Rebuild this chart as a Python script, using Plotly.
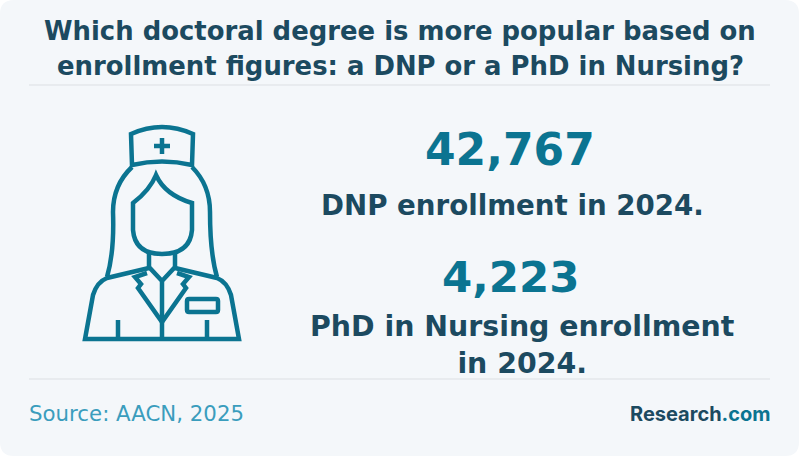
import plotly.graph_objects as go

W = 799
H = 456

title_lines = ["Which doctoral degree is more popular based on",
               "enrollment figures: a DNP or a PhD in Nursing?"]
enrollment = [42767, 4223]
captions = ["DNP enrollment in 2024.", "PhD in Nursing enrollment<br>in 2024."]
source = "Source: AACN, 2025"

BG = "#f4f7fa"
DARK = "#1c4a60"
TEAL = "#0b7491"
RULE = "#dcdfe3"
BOLD = "DejaVu Sans"

# the nurse icon, in page pixels
nurse = [
    "M131,134 Q162,120 193,134 L192,165 Q162,158 132,165 Z",
    "M162,138 L162,154 M154,146 L170,146",
    "M132,167 Q113,185 113,212 C114,240 112,260 107,277",
    "M192,167 Q210,185 210,212 C210,240 212,260 217,277",
    "M156,175 Q150,190 133,203 L133,230 Q135,254 162,254 Q190,254 192,230 L192,203 Q165,195 156,175 Z",
    "M149,253 L149,267 L162,281 L175,267 L175,253",
    "M149,268 L107,278 Q97,282 93,295 L85,339 L239,339 L231,295 Q227,282 217,278 L175,268",
    "M147,273 L135,277 L141,284 L138,288 L162,322 L186,288 L183,284 L189,277 L177,273",
    "M162,282 L162,339",
    "M118,320 L118,339 M207,320 L207,339",
    "M189,299 L216,299 Q218,299 218,301 L218,310 Q218,312 216,312 L189,312 Q187,312 187,310 L187,301 Q187,299 189,299 Z",
]

fig = go.Figure()

shapes = [
    dict(type="path", layer="below", fillcolor=BG, line_width=0,
         path=f"M0,14 Q0,0 14,0 L{W-14},0 Q{W},0 {W},14 L{W},{H-14} Q{W},{H} {W-14},{H} L14,{H} Q0,{H} 0,{H-14} Z"),
    dict(type="line", x0=29, x1=770, y0=85, y1=85, line=dict(color=RULE, width=1)),
    dict(type="line", x0=29, x1=770, y0=379, y1=379, line=dict(color=RULE, width=1)),
]
for p in nurse:
    shapes.append(dict(type="path", path=p, line=dict(color=TEAL, width=4.5)))

def text(x, y, s, size, color, family=BOLD, anchor="center", bold=True):
    if bold:
        s = f"<b>{s}</b>"
    fig.add_annotation(x=x, y=y, text=s, showarrow=False, xanchor=anchor, yanchor="middle",
                       font=dict(family=family, size=size, color=color))

text(400, 31, title_lines[0], 25.9, DARK)
text(400, 66, title_lines[1], 25.9, DARK)
text(510, 149, f"{enrollment[0]:,}", 44, TEAL)
text(512, 205, captions[0], 27.7, DARK)
text(511, 277, f"{enrollment[1]:,}", 43.5, TEAL)
text(522, 345, captions[1], 28.4, DARK)
text(27, 413, source, 21.3, "#3a9dbd", anchor="left", bold=False)
text(773, 414, f"<span style='color:{DARK}'>Research</span><span style='color:{TEAL}'>.com</span>",
     20, DARK, family="Inter", anchor="right")

fig.update_layout(
    width=W, height=H, margin=dict(l=0, r=0, t=0, b=0),
    paper_bgcolor="white", plot_bgcolor="rgba(0,0,0,0)",
    shapes=shapes, showlegend=False,
    xaxis=dict(range=[0, W], visible=False, fixedrange=True),
    yaxis=dict(range=[H, 0], visible=False, fixedrange=True),
)
# the page margin would push the figure 8px off
fig.write_html("out.html", config=dict(displayModeBar=False),
               post_script="document.body.style.margin='0';document.body.style.overflow='hidden';")
